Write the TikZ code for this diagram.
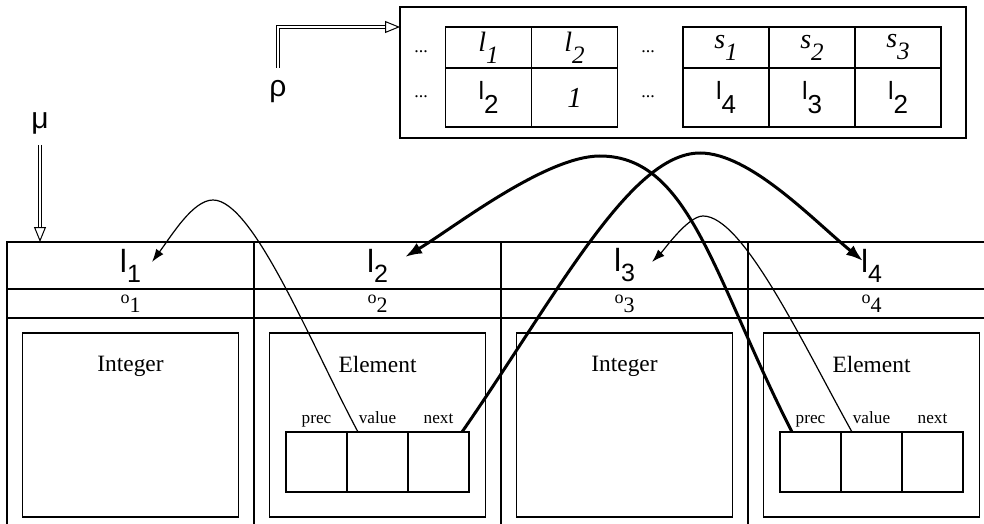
\documentclass[tikz,border=0pt]{standalone}
\usepackage{fontspec}
\setmainfont{Liberation Serif}
\newfontfamily\lblfont{Liberation Sans}
\usetikzlibrary{arrows.meta,positioning}

\newcommand{\lbig}[1]{{\lblfont\fontsize{16}{16}\selectfont l\raisebox{-5pt}{\fontsize{12.5}{12.5}\selectfont #1}}}
\newcommand{\lsmall}[1]{{\lblfont\fontsize{12.5}{12.5}\selectfont l\raisebox{-7pt}{\fontsize{13}{13}\selectfont #1}}}
\newcommand{\lit}[2]{{\fontsize{14}{14}\selectfont\textit{#1}\raisebox{-6pt}{\fontsize{12.5}{12.5}\selectfont\textit{#2}}}}
\newcommand{\oname}[1]{{\fontsize{9}{9}\selectfont o\raisebox{-4.5pt}{\fontsize{11}{11}\selectfont #1}}}

\tikzset{
    tbox/.style={draw,line width=0.7pt,inner sep=0pt,outer sep=0pt},
    keycell/.style={tbox,minimum width=43pt,minimum height=20.5pt},
    valcell/.style={tbox,minimum width=43pt,minimum height=29.5pt},
    headcell/.style={tbox,minimum width=123.5pt,minimum height=23.5pt},
    offcell/.style={tbox,minimum width=123.5pt,minimum height=14.5pt},
    bodycell/.style={tbox,minimum width=123.5pt,minimum height=110pt},
    objbox/.style={tbox,minimum width=108pt,minimum height=92pt},
    fieldcell/.style={tbox,minimum width=30.5pt,minimum height=30pt},
    objname/.style={inner sep=0pt,font=\fontsize{11.7}{12}\selectfont},
    fieldname/.style={inner sep=0pt,text height=6pt,text depth=2pt,font=\fontsize{8.6}{9}\selectfont},
    dotsname/.style={inner sep=0pt,font=\fontsize{9}{9}\selectfont},
    greekname/.style={font=\lblfont\fontsize{15}{15}\selectfont},
    thinref/.style={line width=0.6pt,-{Latex[length=6.5pt,width=4.5pt]}},
    thickref/.style={line width=1.5pt,-{Latex[length=8.5pt,width=6pt]}},
    dblarrow/.style={double,double distance=1pt,line width=0.5pt,-{Triangle[open,length=7.5pt,width=6pt]}}
}

\begin{document}
\begin{tikzpicture}[x=0.5pt,y=-0.5pt]
    \useasboundingbox (0,0) rectangle (984,524);
    \clip (0,0) rectangle (984,524);

    % environment rho
    \node[tbox,minimum width=283pt,minimum height=65.5pt] (rhobox) at (683,72.5) {};
    \node[keycell] (k1) at (488.5,47.5) {\lit{l}{1}\hspace{8pt}};
    \node[keycell,right=0pt of k1] (k2) {\lit{l}{2}};
    \node[valcell,below=0pt of k1] (v1) {\lsmall{2}\hspace{12pt}};
    \node[valcell,below=0pt of k2] (v2) {{\fontsize{14.5}{15}\selectfont\textit{1}}};
    \node[keycell] (k3) at (726,47.5) {\lit{s}{1}};
    \node[keycell,right=0pt of k3] (k4) {\lit{s}{2}};
    \node[keycell,right=0pt of k4] (k5) {\lit{s}{3}};
    \node[valcell,below=0pt of k3] (v3) {\lsmall{4}};
    \node[valcell,below=0pt of k4] (v4) {\lsmall{3}};
    \node[valcell,below=0pt of k5] (v5) {\lsmall{2}};
    \node[dotsname] (dotsa) at (421,52) {...};
    \node[dotsname] (dotsb) at (421,97) {...};
    \node[dotsname] (dotsc) at (648,52) {...};
    \node[dotsname] (dotsd) at (648,97) {...};
    \node[greekname] (rho) at (278,92) {ρ};
    \draw[dblarrow,shorten <=3pt] (rho.north) |- (rhobox.west |- k1.north);

    % store mu
    \node[headcell] (h1) at (130.5,265.5) {\lbig{1}};
    \node[headcell,right=0pt of h1] (h2) {\lbig{2}};
    \node[headcell,right=0pt of h2] (h3) {\lbig{3}};
    \node[headcell,right=0pt of h3] (h4) {\lbig{4}};
    \node[offcell,below=0pt of h1] (o1) {\oname{1}};
    \node[offcell,below=0pt of h2] (o2) {\oname{2}};
    \node[offcell,below=0pt of h3] (o3) {\oname{3}};
    \node[offcell,below=0pt of h4] (o4) {\oname{4}};
    \node[bodycell,below=0pt of o1] (c1) {};
    \node[bodycell,below=0pt of o2] (c2) {};
    \node[bodycell,below=0pt of o3] (c3) {};
    \node[bodycell,below=0pt of o4] (c4) {};
    \node[greekname] (mu) at (40,123) {μ};
    \draw[dblarrow,shorten <=2pt] (mu.south) -- (mu.south |- h1.north);

    \node[objbox,below=7.5pt of o1] (obj1) {};
    \node[objname,below=11.5pt of obj1.north] (t1) {Integer};
    \node[objbox,below=7.5pt of o2] (obj2) {};
    \node[objname,below=11.5pt of obj2.north] (t2) {Element};
    \node[fieldcell,above=12.5pt of obj2.south] (val2) {};
    \node[fieldcell,left=0pt of val2] (prec2) {};
    \node[fieldcell,right=0pt of val2] (next2) {};
    \node[fieldname,above=2pt of prec2] (fp2) {prec};
    \node[fieldname,above=2pt of val2] (fv2) {value};
    \node[fieldname,above=2pt of next2] (fn2) {next};
    \node[objbox,below=7.5pt of o3] (obj3) {};
    \node[objname,below=11.5pt of obj3.north] (t3) {Integer};
    \node[objbox,below=7.5pt of o4] (obj4) {};
    \node[objname,below=11.5pt of obj4.north] (t4) {Element};
    \node[fieldcell,above=12.5pt of obj4.south] (val4) {};
    \node[fieldcell,left=0pt of val4] (prec4) {};
    \node[fieldcell,right=0pt of val4] (next4) {};
    \node[fieldname,above=2pt of prec4] (fp4) {prec};
    \node[fieldname,above=2pt of val4] (fv4) {value};
    \node[fieldname,above=2pt of next4] (fn4) {next};

    % references
    \draw[thinref] ([xshift=5.5pt]val2.north west) .. controls (310,342) and (253,200) .. (213,200)
        .. controls (193,200) and (172,235) .. ([xshift=10.75pt,yshift=1.75pt]h1.center);
    \draw[thickref] ([xshift=-3.5pt]next2.north east) .. controls (557,295) and (630,153) .. (700,153)
        .. controls (750,153) and (813,220) .. ([xshift=-4.25pt,yshift=2.25pt]h4.center);
    \draw[thickref] ([xshift=6pt]prec4.north west) .. controls (714,279) and (690,156) .. (600,156)
        .. controls (545,156) and (452,229) .. ([xshift=13.75pt,yshift=4.25pt]h2.center);
    \draw[thinref] ([xshift=5.5pt]val4.north west) .. controls (802,342) and (743,216) .. (703,216)
        .. controls (688,216) and (664,250) .. ([xshift=13.75pt,yshift=1.75pt]h3.center);
\end{tikzpicture}
\end{document}
